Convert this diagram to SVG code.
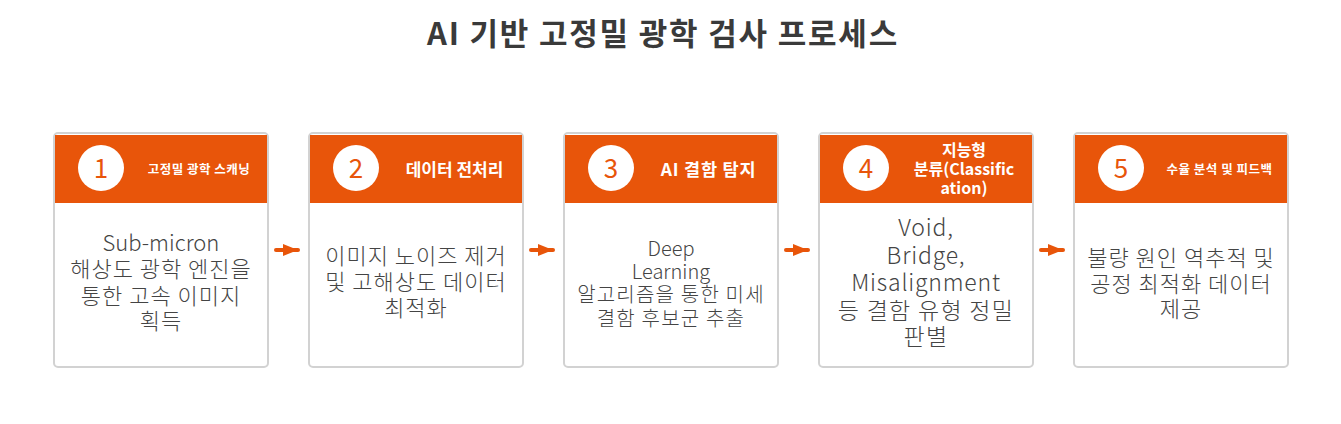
<svg xmlns="http://www.w3.org/2000/svg" width="1341" height="424" viewBox="0 0 1341 424">
<defs>
<style>
text{font-family:"Noto Sans CJK KR","Noto Sans",sans-serif}
.title{font-size:31px;font-weight:bold;fill:#3a3a3a;text-anchor:middle;letter-spacing:1.8px}
.card{fill:#ffffff;stroke:#d2d2d2;stroke-width:2}
.head{fill:#e8550a}
.num{fill:#e8550a;font-size:26px;text-anchor:middle}
.circ{fill:#ffffff}
.ht{fill:#ffffff;font-weight:bold;text-anchor:middle}
.body{fill:#444444;text-anchor:middle;font-weight:300}
.lat{letter-spacing:0}
.conn{stroke:#e8550a;stroke-width:4;stroke-linecap:round;fill:none}
</style>
<marker id="ah" markerUnits="userSpaceOnUse" markerWidth="16" markerHeight="14" refX="15" refY="6" orient="auto">
<path d="M0,0 L15,6 L0,12 Z" fill="#e8550a"/>
</marker>
</defs>
<rect width="1341" height="424" fill="#ffffff"/>
<text class="title" x="663" y="45">AI 기반 고정밀 광학 검사 프로세스</text>

<g id="connectors">
<line class="conn" x1="276" y1="250" x2="298" y2="250" marker-end="url(#ah)"/>
<line class="conn" x1="531" y1="250" x2="553" y2="250" marker-end="url(#ah)"/>
<line class="conn" x1="786" y1="250" x2="808" y2="250" marker-end="url(#ah)"/>
<line class="conn" x1="1041" y1="250" x2="1063" y2="250" marker-end="url(#ah)"/>
</g>

<g id="node1">
<rect class="card" x="54" y="133" width="214" height="234" rx="4"/>
<rect class="head" x="55" y="135" width="212" height="68"/>
<circle class="circ" cx="101" cy="168" r="23"/>
<text class="num" x="101" y="177.5">1</text>
<text class="ht" x="199" y="174" font-size="12.5" letter-spacing="0.5">고정밀 광학 스캐닝</text>
<text class="body" font-size="22" letter-spacing="1"><tspan class="lat" x="161" y="251">Sub-micron</tspan><tspan x="161" y="277">해상도 광학 엔진을</tspan><tspan x="161" y="304">통한 고속 이미지</tspan><tspan x="161" y="329">획득</tspan></text>
</g>

<g id="node2">
<rect class="card" x="309" y="133" width="214" height="234" rx="4"/>
<rect class="head" x="310" y="135" width="212" height="68"/>
<circle class="circ" cx="356" cy="168" r="23"/>
<text class="num" x="356" y="177.5">2</text>
<text class="ht" x="454.5" y="176" font-size="17">데이터 전처리</text>
<text class="body" font-size="22" letter-spacing="1"><tspan x="416" y="264">이미지 노이즈 제거</tspan><tspan x="416" y="290">및 고해상도 데이터</tspan><tspan x="416" y="316">최적화</tspan></text>
</g>

<g id="node3">
<rect class="card" x="564" y="133" width="214" height="234" rx="4"/>
<rect class="head" x="565" y="135" width="212" height="68"/>
<circle class="circ" cx="611" cy="168" r="23"/>
<text class="num" x="611" y="177.5">3</text>
<text class="ht" x="708.5" y="176" font-size="17.5" letter-spacing="0.8">AI 결함 탐지</text>
<text class="body" font-size="20" letter-spacing="1.2"><tspan class="lat" x="671" y="256">Deep</tspan><tspan class="lat" x="671" y="279">Learning</tspan><tspan x="671" y="302">알고리즘을 통한 미세</tspan><tspan x="671" y="326">결함 후보군 추출</tspan></text>
</g>

<g id="node4">
<rect class="card" x="819" y="133" width="214" height="234" rx="4"/>
<rect class="head" x="820" y="135" width="212" height="68"/>
<circle class="circ" cx="866" cy="168" r="23"/>
<text class="num" x="866" y="177.5">4</text>
<text class="ht" font-size="16"><tspan x="964" y="156">지능형</tspan><tspan x="964" y="175">분류(Classific</tspan><tspan x="964" y="194">ation)</tspan></text>
<text class="body" font-size="23" letter-spacing="1.3"><tspan x="926" y="236" letter-spacing="0.8">Void,</tspan><tspan x="926" y="264" letter-spacing="0.8">Bridge,</tspan><tspan x="926" y="291" letter-spacing="0.8">Misalignment</tspan><tspan x="926" y="319">등 결함 유형 정밀</tspan><tspan x="926" y="345">판별</tspan></text>
</g>

<g id="node5">
<rect class="card" x="1074" y="133" width="214" height="234" rx="4"/>
<rect class="head" x="1075" y="135" width="212" height="68"/>
<circle class="circ" cx="1121" cy="168" r="23"/>
<text class="num" x="1121" y="177.5">5</text>
<text class="ht" x="1219.5" y="174" font-size="12.5" letter-spacing="0.5">수율 분석 및 피드백</text>
<text class="body" font-size="22" letter-spacing="1"><tspan x="1181" y="265.5">불량 원인 역추적 및</tspan><tspan x="1181" y="292">공정 최적화 데이터</tspan><tspan x="1181" y="316.5">제공</tspan></text>
</g>
</svg>
